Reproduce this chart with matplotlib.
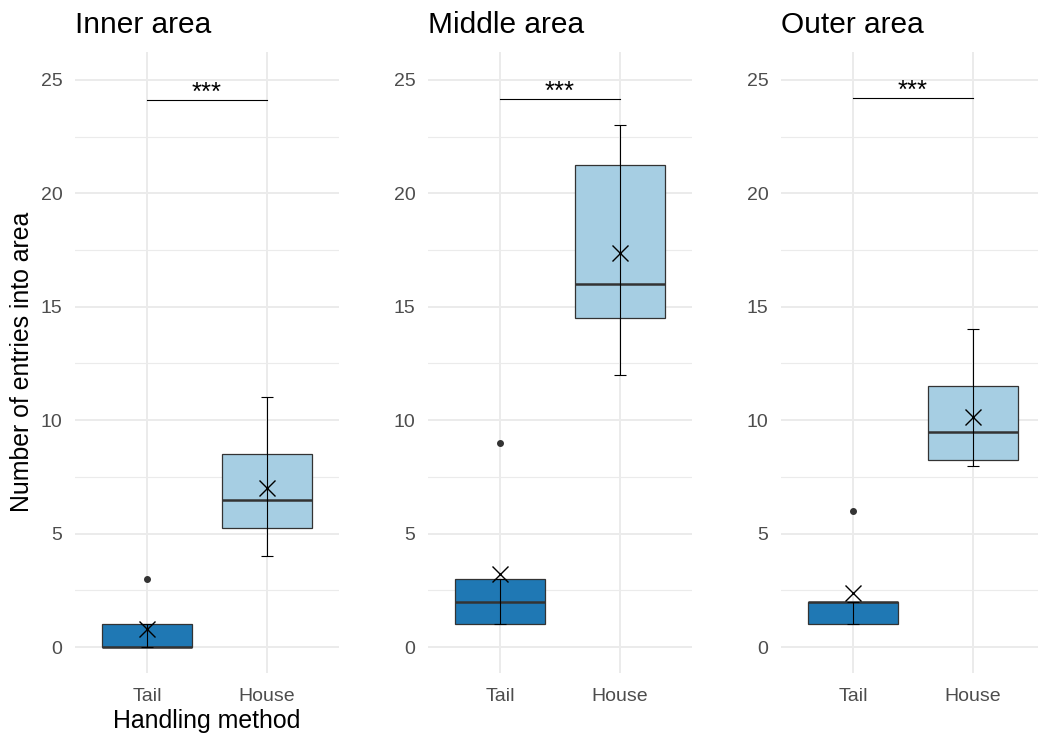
import matplotlib
matplotlib.use('Agg')
import matplotlib.pyplot as plt
from matplotlib.ticker import MultipleLocator

plt.rcParams['font.family'] = ['Liberation Sans', 'DejaVu Sans']

# entries per handling method, one list per area
areas = ['Inner area', 'Middle area', 'Outer area']
methods = ['Tail', 'House']
q1 = [[0, 5.25], [1, 14.5], [1, 8.25]]
medians = [[0, 6.5], [2, 16], [2, 9.5]]
q3 = [[1, 8.5], [3, 21.25], [2, 11.5]]
whisk_lo = [[0, 4], [1, 12], [1, 8]]
whisk_hi = [[1, 11], [3, 23], [2, 14]]
means = [[0.8, 7.0], [3.2, 17.35], [2.4, 10.15]]
outliers = [[[3], []], [[9], []], [[6], []]]
sig_y = [24.1, 24.15, 24.2]
sig_label = '***'

colors = ['#1F78B4', '#A6CEE3']
grid_col = '#EBEBEB'
W, H = 1038, 735

fig = plt.figure(figsize=(W / 100, H / 100), dpi=100)

panel_left = [75, 428, 781]
panel_w, panel_top, panel_bot = 264, 52, 673

for i, area in enumerate(areas):
    ax = fig.add_axes([panel_left[i] / W, (H - panel_bot) / H,
                       panel_w / W, (panel_bot - panel_top) / H])
    pos = [1, 2]

    stats = []
    for j in range(2):
        stats.append(dict(med=medians[i][j], q1=q1[i][j], q3=q3[i][j],
                          whislo=q1[i][j], whishi=q3[i][j],
                          fliers=outliers[i][j], label=methods[j]))
    bp = ax.bxp(stats, positions=pos, widths=0.75, patch_artist=True,
                showcaps=False, manage_ticks=False,
                boxprops=dict(edgecolor='#333333', linewidth=0.9),
                medianprops=dict(color='#333333', linewidth=1.8),
                whiskerprops=dict(linewidth=0),
                flierprops=dict(marker='o', markersize=4,
                                markerfacecolor='#333333',
                                markeredgecolor='#333333'),
                zorder=2)
    for patch, c in zip(bp['boxes'], colors):
        patch.set_facecolor(c)

    # whisker range drawn as an error bar through the box
    for j in range(2):
        lo, hi = whisk_lo[i][j], whisk_hi[i][j]
        mid = (lo + hi) / 2
        ax.errorbar(pos[j], mid, yerr=[[mid - lo], [hi - mid]], fmt='none',
                    ecolor='black', elinewidth=0.8, capsize=4,
                    capthick=0.8, zorder=3)
    ax.plot(pos, means[i], linestyle='none', marker='x', markersize=12,
            markeredgewidth=1.0, color='black', zorder=4)

    # significance bracket
    ax.plot(pos, [sig_y[i], sig_y[i]], color='black', linewidth=0.8,
            zorder=3)
    ax.text(1.5, sig_y[i], sig_label, ha='center', va='baseline',
            fontsize=18.5)

    ax.set_xlim(0.4, 2.6)
    ax.set_ylim(-1.146, 26.23)
    ax.set_xticks(pos)
    ax.set_xticklabels(methods)
    ax.yaxis.set_major_locator(MultipleLocator(5))
    ax.yaxis.set_minor_locator(MultipleLocator(2.5))
    ax.grid(which='major', color=grid_col, linewidth=1.4, zorder=0)
    ax.grid(which='minor', axis='y', color=grid_col, linewidth=0.8,
            zorder=0)
    ax.set_axisbelow(True)
    ax.tick_params(which='both', length=0, labelsize=14,
                   labelcolor='#4D4D4D')
    ax.tick_params(axis='y', pad=9)
    ax.tick_params(axis='x', pad=11)
    for s in ax.spines.values():
        s.set_visible(False)
    ax.set_title(area, loc='left', fontsize=21.5, pad=14)

fig.text(22 / W, (H - 362) / H, 'Number of entries into area',
         rotation=90, ha='center', va='center', fontsize=17.9)
fig.text(207 / W, (H - 721) / H, 'Handling method', ha='center',
         va='center', fontsize=17.9)

fig.savefig('out.png', dpi=100)
